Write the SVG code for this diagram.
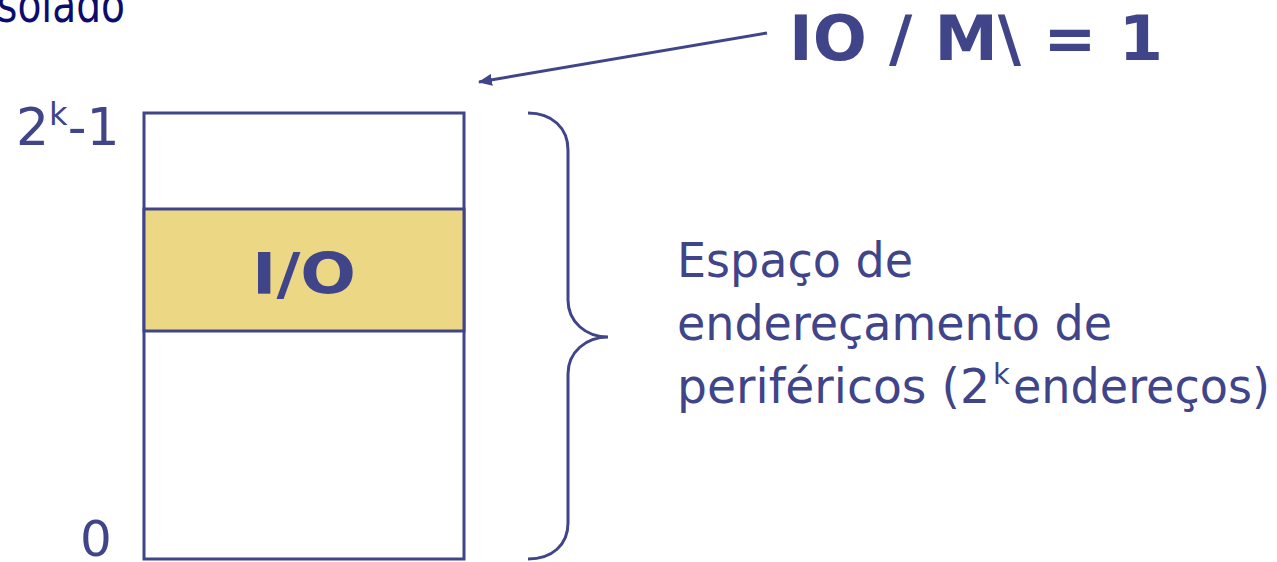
<svg xmlns="http://www.w3.org/2000/svg" width="1277" height="562" viewBox="0 0 1277 562">
  <defs>
    <style>
      .t { font-family: "DejaVu Sans", "Liberation Sans", sans-serif; fill: #404489; }
      .b { font-weight: bold; }
      .ln { fill: none; stroke: #404489; stroke-width: 3; }
      .white { fill: #ffffff; }
      .yellow { fill: #EBD784; }
    </style>
    <marker id="ah" markerWidth="14" markerHeight="12" refX="13" refY="6" orient="auto" markerUnits="userSpaceOnUse">
      <path d="M0,0 L14,6 L0,12 Z" fill="#404489"/>
    </marker>
  </defs>
  <rect width="1277" height="562" fill="#ffffff"/>

  <text x="-3" y="22" font-size="50" font-family="DejaVu Sans, sans-serif" fill="#0C0C6C" textLength="128" lengthAdjust="spacingAndGlyphs">solado</text>

  <g id="memory">
    <rect x="144" y="113" width="320" height="446" class="ln white"/>
    <rect x="144" y="209" width="320" height="122" class="ln yellow"/>
  </g>
  <g id="io">
    <text class="t b" x="304" y="294" font-size="57" text-anchor="middle" textLength="104" lengthAdjust="spacingAndGlyphs">I/O</text>
  </g>
  <g id="label-top">
    <text class="t" x="16" y="145" font-size="52">2<tspan font-size="32" dy="-20">k</tspan><tspan dy="20">-1</tspan></text>
  </g>
  <g id="label-bottom">
    <text class="t" x="80" y="556" font-size="50">0</text>
  </g>
  <g id="signal">
    <text class="t b" x="789" y="60" font-size="63" textLength="374" lengthAdjust="spacingAndGlyphs">IO / M\ = 1</text>
  </g>
  <g id="brace">
    <path class="ln" d="M528,113 C552,113 568,128 568,150 L568,300 C568,322 586,337 608,337 C586,337 568,352 568,374 L568,523 C568,545 552,559 528,559"/>
  </g>
  <g id="description">
    <text class="t" font-size="48">
      <tspan x="677" y="277" textLength="236" lengthAdjust="spacingAndGlyphs">Espaço de</tspan>
      <tspan x="677" y="340" textLength="435" lengthAdjust="spacingAndGlyphs">endereçamento de</tspan>
      <tspan x="677" y="403" textLength="313" lengthAdjust="spacingAndGlyphs">periféricos (2</tspan><tspan x="993" y="384" font-size="29">k</tspan><tspan x="1013" y="403" textLength="257" lengthAdjust="spacingAndGlyphs">endereços)</tspan>
    </text>
  </g>
  <g id="connectors">
    <line class="ln" x1="767" y1="33" x2="479" y2="82" stroke-width="2.5" marker-end="url(#ah)"/>
  </g>
</svg>
